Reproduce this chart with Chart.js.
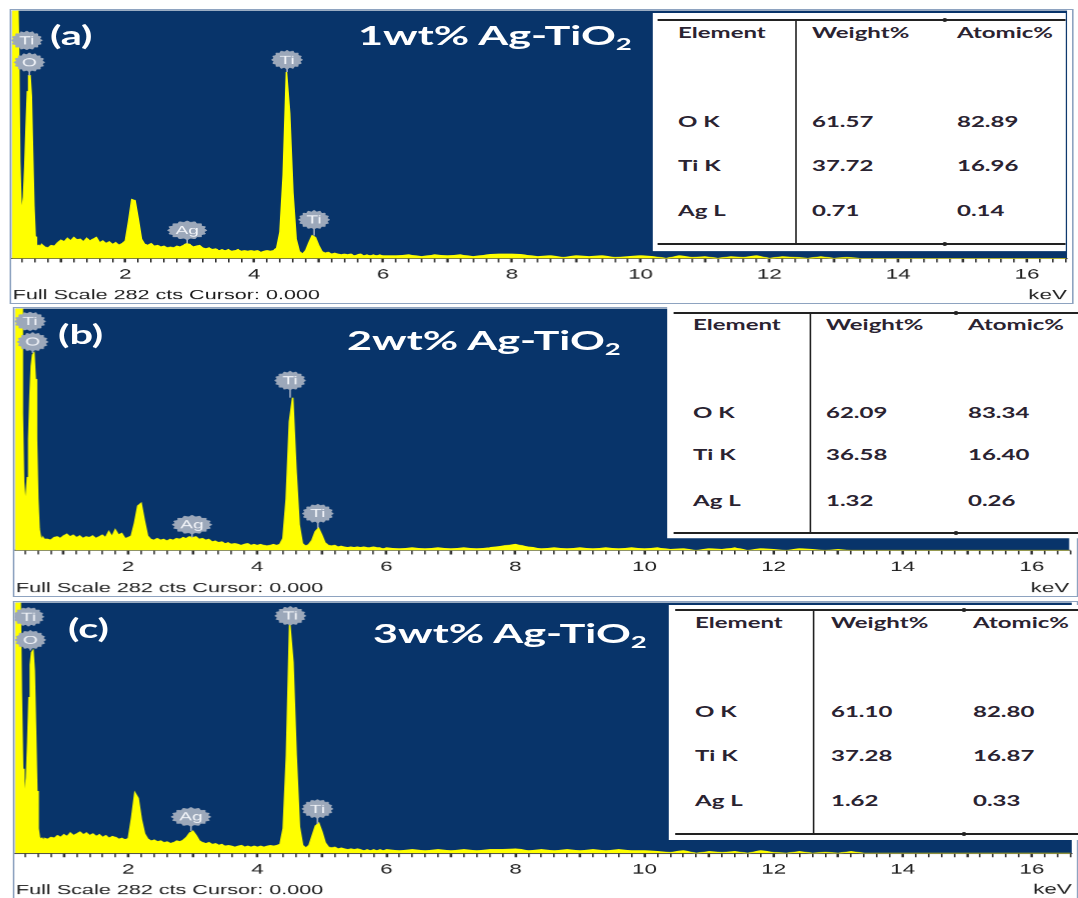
<!DOCTYPE html>
<html>
<head>
<meta charset="utf-8">
<script src="https://cdn.jsdelivr.net/npm/chart.js"></script>
<style>
  html, body { margin: 0; padding: 0; background: #fff; }
  body { width: 1078px; height: 898px; overflow: hidden; position: relative; }
  #page { position: absolute; left: 0; top: 0; height: 898px; transform-origin: 0 0; }
  .panel { position: absolute; border: 1px solid #8ea3c0; background: #fff; }
  .panel canvas { display: block; }
  .tag { position: absolute; color: #fff; font-family: Lato, sans-serif; font-weight: 700; white-space: nowrap; line-height: 1; }
  .tag sub { font-size: 64%; vertical-align: -0.3em; line-height: 0; }
  .tbl { position: absolute; background: #fff; }
  .tbl .rule { position: absolute; right: 0; height: 0; border-top: 2px solid #222; }
  .tbl .vrule { position: absolute; width: 0; border-left: 1.6px solid #222; }
  .tbl .dot { position: absolute; width: 3px; height: 4px; margin-top: -1px; background: #222; border-radius: 50%; }
  .tbl .cell { position: absolute; font-family: Lato, sans-serif; font-weight: 700; font-size: 15px; line-height: 1; color: #2a2331; white-space: nowrap; }
</style>
</head>
<body>
<div id="page"></div>
<script>
// energy axis (keV), shared by the three spectra
const energyKeV = [
    0.24, 0.26, 0.28, 0.30, 0.32, 0.34, 0.36, 0.38, 0.40, 0.42, 0.44, 0.46, 0.48, 0.50, 0.52, 0.54, 0.56, 0.58, 0.60, 0.62, 0.64, 0.66, 0.68, 0.70,
    0.75, 0.80, 0.85, 0.90, 0.95,
    1.00, 1.05, 1.10, 1.15, 1.20, 1.25, 1.30, 1.35, 1.40, 1.45, 1.50, 1.55, 1.60, 1.65, 1.70, 1.75, 1.80, 1.85, 1.90, 1.95,
    2.00, 2.05, 2.10, 2.15, 2.20, 2.25, 2.30, 2.35, 2.40, 2.45, 2.50, 2.55, 2.60, 2.65, 2.70, 2.75, 2.80, 2.85, 2.90, 2.95,
    3.00, 3.05, 3.10, 3.15, 3.20, 3.25, 3.30, 3.35, 3.40, 3.45, 3.50, 3.55, 3.60, 3.65, 3.70, 3.75, 3.80, 3.85, 3.90, 3.95,
    4.00, 4.05, 4.10, 4.15, 4.20, 4.25, 4.30, 4.35, 4.40, 4.45, 4.50, 4.55, 4.60, 4.65, 4.70, 4.75, 4.80, 4.85, 4.90, 4.95,
    5.00, 5.05, 5.10, 5.15, 5.20, 5.25, 5.30, 5.35, 5.40, 5.45, 5.50, 5.55, 5.60, 5.65, 5.70, 5.75, 5.80, 5.85, 5.90, 5.95, 6.00,
    6.2, 6.4, 6.6, 6.8, 7.0, 7.2, 7.4, 7.6, 7.8, 8.0, 8.2, 8.4, 8.6, 8.8, 9.0, 9.2, 9.4, 9.6, 9.8, 10.0,
    10.2, 10.4, 10.6, 10.8, 11.0, 11.2, 11.4, 11.6, 11.8, 12.0, 12.2, 12.4, 12.6, 12.8, 13.0, 13.2, 13.4, 13.6, 13.8, 14.0,
    14.2, 14.4, 14.6, 14.8, 15.0, 15.2, 15.4, 15.6, 15.8, 16.0, 16.2, 16.4, 16.6
];

// counts (full scale 282 cts)
const counts1wt = [
    320, 320, 320, 320, 320, 250, 110, 60, 58, 70, 105, 150, 190, 208, 208, 185, 120, 60, 25, 16, 14, 15, 13, 16,
    13, 12, 15, 14, 18,
    21, 19, 23, 20, 24, 21, 22, 19, 23, 20, 22, 24, 18, 20, 17, 19, 16, 18, 15, 17,
    20, 42, 67, 66, 45, 22, 16, 15, 17, 14, 15, 13, 14, 12, 13, 12, 14, 13, 15, 17,
    16, 13, 14, 15, 12, 11, 12, 10, 11, 9, 10, 9, 10, 8, 9, 10, 8, 9, 8, 9,
    8, 9, 7, 8, 9, 8, 9, 12, 30, 95, 212, 165, 75, 22, 8, 5, 9, 18, 26, 24,
    15, 8, 6, 7, 5, 6, 5, 4, 5, 4, 5, 3, 4, 5, 3, 4, 3, 4, 3, 4, 3,
    3, 4, 2, 4, 3, 4, 2, 4, 5, 5, 4, 2, 3, 1, 3, 2, 3, 1, 2, 3,
    2, 0, 3, 1, 2, 0, 2, 1, 3, 0, 2, 1, 0, 2, 0, 1, 0, 0, 0, 0,
    0, 0, 0, 0, 0, 0, 0, 0, 0, 0, 0, 0, 0
];
const counts2wt = [
    320, 320, 320, 320, 320, 300, 160, 80, 60, 62, 85, 130, 180, 215, 228, 230, 200, 130, 60, 25, 16, 14, 15, 13,
    13, 12, 15, 16, 14,
    17, 19, 16, 18, 15, 17, 14, 16, 15, 17, 14, 16, 18, 15, 22, 16, 24, 18, 20, 14,
    15, 17, 32, 52, 55, 35, 17, 13, 12, 14, 12, 13, 11, 13, 12, 14, 13, 15, 14, 16,
    15, 16, 13, 14, 12, 13, 10, 11, 9, 10, 8, 9, 7, 8, 7, 6, 7, 8, 6, 7,
    6, 7, 6, 5, 6, 7, 6, 7, 14, 60, 150, 178, 95, 30, 8, 5, 7, 12, 22, 26,
    18, 9, 6, 5, 6, 4, 5, 4, 3, 4, 3, 4, 3, 4, 3, 3, 4, 3, 3, 2, 3,
    2, 3, 2, 3, 2, 3, 2, 3, 5, 7, 4, 2, 3, 2, 3, 2, 3, 2, 3, 2,
    3, 1, 2, 0, 2, 1, 3, 0, 2, 1, 0, 2, 1, 0, 1, 0, 0, 0, 0, 0,
    0, 0, 0, 0, 0, 0, 0, 0, 0, 0, 0, 0, 0
];
const counts3wt = [
    320, 320, 320, 320, 300, 180, 95, 70, 69, 85, 125, 175, 212, 226, 228, 205, 140, 70, 28, 18, 16, 17, 15, 17,
    16, 18, 17, 20, 18,
    21, 19, 23, 20, 22, 24, 21, 23, 20, 22, 19, 21, 18, 20, 17, 19, 18, 16, 17, 15,
    17, 40, 68, 62, 38, 22, 16, 14, 15, 13, 14, 12, 13, 11, 12, 14, 13, 15, 18, 23,
    25, 20, 14, 12, 11, 12, 10, 11, 9, 10, 8, 9, 8, 7, 8, 9, 7, 8, 7, 8,
    7, 8, 7, 8, 9, 8, 9, 10, 28, 110, 258, 215, 110, 30, 9, 6, 9, 20, 31, 34,
    24, 12, 7, 6, 7, 5, 6, 5, 4, 5, 4, 5, 4, 3, 4, 3, 4, 3, 4, 3, 4,
    3, 4, 3, 4, 3, 4, 3, 4, 4, 5, 3, 4, 3, 4, 3, 4, 3, 4, 3, 3,
    2, 1, 3, 0, 2, 1, 2, 0, 3, 1, 0, 2, 0, 1, 0, 2, 0, 0, 0, 0,
    0, 0, 0, 0, 0, 0, 0, 0, 0, 0, 0, 0, 0
];

const xTickLabels = [2, 4, 6, 8, 10, 12, 14, 16];
const fullScaleCts = 282;

// peak markers: name, energy, where the tag sits and where its stem ends (cts)
const peakNames = ['Ti', 'O', 'Ti', 'Ag', 'Ti'];
const peakKeV1wt = [0.47, 0.51, 4.51, 2.96, 4.93];
const tagCts1wt = [248, 223, 226, 32, 44];
const stemCts1wt = [248, 208, 212, 17, 26];
const peakKeV2wt = [0.48, 0.52, 4.51, 2.99, 4.94];
const tagCts2wt = [267, 243, 198, 30, 43];
const stemCts2wt = [267, 230, 178, 15, 26];
const peakKeV3wt = [0.45, 0.48, 4.51, 2.97, 4.93];
const tagCts3wt = [266, 240, 267, 41, 50];
const stemCts3wt = [266, 228, 258, 25, 33];

// quantification tables
const tableHeader = ['Element', 'Weight%', 'Atomic%'];
const tableElements = ['O K', 'Ti K', 'Ag L'];
const weightPct1wt = [61.57, 37.72, 0.71];
const atomicPct1wt = [82.89, 16.96, 0.14];
const weightPct2wt = [62.09, 36.58, 1.32];
const atomicPct2wt = [83.34, 16.40, 0.26];
const weightPct3wt = [61.10, 37.28, 1.62];
const atomicPct3wt = [82.80, 16.87, 0.33];

const panelLetters = ['(a)', '(b)', '(c)'];
const sampleNames = ['1wt% Ag-TiO', '2wt% Ag-TiO', '3wt% Ag-TiO'];

// the figure is stretched horizontally; layout below is in picture pixels
const STRETCH = 1.6;
const BLUE = '#08346a';
const YELLOW = '#ffff00';

const panels = [
    { left: 10, top: 10, width: 1062, plotH: 248, axisH: 45, xMin: 0.24, xMax: 16.62,
      counts: counts1wt, keV: peakKeV1wt, tag: tagCts1wt, stem: stemCts1wt,
      weight: weightPct1wt, atomic: atomicPct1wt,
      letter: { x: 50, y: 35 }, name: { x: 358, y: 34 },
      table: { left: 652, top: 13, right: 1066, bottom: 251, ruleTop: 20, ruleBottom: 244, ruleLeft: 658,
               vline: 796, dot: 944, headY: 32, rowY: [121, 165, 210], cols: [678, 812, 957] } },
    { left: 13, top: 308, width: 1063, plotH: 242, axisH: 46, xMin: 0.25, xMax: 16.58,
      counts: counts2wt, keV: peakKeV2wt, tag: tagCts2wt, stem: stemCts2wt,
      weight: weightPct2wt, atomic: atomicPct2wt,
      letter: { x: 58, y: 334 }, name: { x: 347, y: 339 },
      table: { left: 667, top: 307, right: 1078, bottom: 538, ruleTop: 313, ruleBottom: 533, ruleLeft: 673,
               vline: 810, dot: 955, headY: 324, rowY: [412, 454, 500], cols: [693, 826, 968] } },
    { left: 13, top: 602, width: 1063, plotH: 251, axisH: 45, xMin: 0.245, xMax: 16.62,
      counts: counts3wt, keV: peakKeV3wt, tag: tagCts3wt, stem: stemCts3wt,
      weight: weightPct3wt, atomic: atomicPct3wt,
      letter: { x: 68, y: 628 }, name: { x: 373, y: 632 },
      table: { left: 669, top: 605, right: 1078, bottom: 840, ruleTop: 610, ruleBottom: 834, ruleLeft: 675,
               vline: 813, dot: 962, headY: 622, rowY: [711, 755, 800], cols: [695, 831, 973] } }
];

const page = document.getElementById('page');
page.style.width = (1078 / STRETCH) + 'px';
page.style.transform = `scaleX(${STRETCH})`;

const sx = v => (v / STRETCH) + 'px';

const tickValues = [];
for (let k = 2; k <= 83; k++) tickValues.push(k / 5);

Chart.defaults.font.family = "'Liberation Sans', Arial, sans-serif";

const plotBackground = {
    id: 'plotBackground',
    beforeDraw(chart) {
        const { ctx, chartArea: a } = chart;
        ctx.save();
        ctx.fillStyle = BLUE;
        ctx.fillRect(a.left, a.top, a.right - a.left, a.bottom - a.top);
        ctx.restore();
    }
};

const footerText = {
    id: 'footerText',
    afterDraw(chart, args, opts) {
        const { ctx } = chart;
        ctx.save();
        ctx.font = "13.5px 'Liberation Sans', Arial, sans-serif";
        ctx.fillStyle = '#1a1a1a';
        ctx.textBaseline = 'middle';
        ctx.textAlign = 'left';
        ctx.fillText(opts.text, 1, chart.height - 8);
        ctx.restore();
    }
};

function tagShape(ctx, cx, cy, rx, ry) {
    ctx.beginPath();
    for (let i = 0; i <= 96; i++) {
        const a = i / 96 * Math.PI * 2;
        const k = 1 + 0.07 * Math.cos(a * 16);
        const px = cx + rx * k * Math.cos(a);
        const py = cy + ry * k * Math.sin(a);
        if (i === 0) ctx.moveTo(px, py); else ctx.lineTo(px, py);
    }
    ctx.closePath();
    ctx.fill();
}

const peakTags = {
    id: 'peakTags',
    afterDatasetsDraw(chart, args, opts) {
        const { ctx } = chart;
        const xs = chart.scales.x, ys = chart.scales.y;
        ctx.save();
        ctx.font = "12px 'Liberation Sans', Arial, sans-serif";
        ctx.textAlign = 'center';
        ctx.textBaseline = 'middle';
        opts.names.forEach((name, i) => {
            const x = xs.getPixelForValue(opts.keV[i]);
            const y = ys.getPixelForValue(opts.tag[i]);
            const yEnd = ys.getPixelForValue(opts.stem[i]);
            const ry = 9;
            const rx = ctx.measureText(name).width / 2 + 4.5;
            if (yEnd > y + ry) {
                ctx.strokeStyle = '#a7b2c3';
                ctx.lineWidth = 1;
                ctx.beginPath();
                ctx.moveTo(x, y + ry);
                ctx.lineTo(x, yEnd);
                ctx.stroke();
            }
            ctx.fillStyle = '#9ca8ba';
            tagShape(ctx, x, y, rx, ry);
            ctx.fillStyle = '#f3f5f9';
            ctx.fillText(name, x, y + 0.5);
        });
        ctx.restore();
    }
};

function addText(parent, cls, html, x, y, size) {
    const el = document.createElement('div');
    el.className = cls;
    el.innerHTML = html;
    el.style.left = x;
    el.style.top = (y - size / 2) + 'px';
    el.style.fontSize = size + 'px';
    parent.appendChild(el);
    return el;
}

function makeTable(p) {
    const t = p.table;
    const box = document.createElement('div');
    box.className = 'tbl';
    box.style.left = sx(t.left);
    box.style.top = t.top + 'px';
    box.style.width = sx(t.right - t.left);
    box.style.height = (t.bottom - t.top) + 'px';
    page.appendChild(box);

    [t.ruleTop, t.ruleBottom].forEach(y => {
        const r = document.createElement('div');
        r.className = 'rule';
        r.style.left = sx(t.ruleLeft - t.left);
        r.style.top = (y - t.top - 1) + 'px';
        box.appendChild(r);
        const d = document.createElement('div');
        d.className = 'dot';
        d.style.left = sx(t.dot - t.left - 1);
        d.style.top = (y - t.top - 1) + 'px';
        box.appendChild(d);
    });
    const v = document.createElement('div');
    v.className = 'vrule';
    v.style.left = sx(t.vline - t.left - 1);
    v.style.top = (t.ruleTop - t.top - 1) + 'px';
    v.style.height = (t.ruleBottom - t.ruleTop + 2) + 'px';
    box.appendChild(v);

    tableHeader.forEach((h, c) => {
        addText(box, 'cell', h, sx(t.cols[c] - t.left), t.headY - t.top, 15);
    });
    tableElements.forEach((el, r) => {
        const y = t.rowY[r] - t.top;
        addText(box, 'cell', el, sx(t.cols[0] - t.left), y, 15);
        addText(box, 'cell', p.weight[r].toFixed(2), sx(t.cols[1] - t.left), y, 15);
        addText(box, 'cell', p.atomic[r].toFixed(2), sx(t.cols[2] - t.left), y, 15);
    });
}

function makePanel(p, i) {
    const box = document.createElement('div');
    box.className = 'panel';
    box.style.left = sx(p.left - 1);
    box.style.top = (p.top - 1) + 'px';
    box.style.width = sx(p.width);
    box.style.height = (p.plotH + p.axisH) + 'px';
    page.appendChild(box);
    const canvas = document.createElement('canvas');
    box.appendChild(canvas);

    new Chart(canvas, {
        type: 'line',
        data: {
            datasets: [{
                data: energyKeV.map((e, k) => ({ x: e, y: p.counts[k] })),
                borderColor: YELLOW,
                backgroundColor: YELLOW,
                borderWidth: 1,
                fill: 'origin',
                pointRadius: 0,
                tension: 0,
                clip: 0
            }]
        },
        options: {
            responsive: true,
            maintainAspectRatio: false,
            animation: false,
            devicePixelRatio: STRETCH,
            layout: { padding: 0 },
            plugins: {
                legend: { display: false },
                tooltip: { enabled: false },
                footerText: { text: `Full Scale ${fullScaleCts} cts Cursor: 0.000` },
                peakTags: { names: peakNames, keV: p.keV, tag: p.tag, stem: p.stem }
            },
            scales: {
                x: {
                    type: 'linear',
                    min: p.xMin,
                    max: p.xMax,
                    afterBuildTicks: s => { s.ticks = tickValues.map(v => ({ value: v })); },
                    afterFit: s => { s.height = p.axisH; },
                    grid: {
                        drawOnChartArea: false,
                        tickLength: 4,
                        color: '#333',
                        tickColor: '#333',
                        tickWidth: ctx => (ctx.tick && Number.isInteger(ctx.tick.value)) ? 1.6 : 1
                    },
                    border: { display: true, color: '#1c1c1c', width: 1 },
                    ticks: {
                        autoSkip: false,
                        maxRotation: 0,
                        padding: 4,
                        color: '#1e1e1e',
                        font: { size: 14 },
                        callback: v => (Number.isInteger(v) && xTickLabels.includes(v)) ? String(v) : ''
                    },
                    title: {
                        display: true,
                        text: 'keV',
                        align: 'end',
                        color: '#1e1e1e',
                        font: { size: 14 },
                        padding: { top: 0, bottom: 0 }
                    }
                },
                y: { display: false, min: 0, max: fullScaleCts }
            }
        },
        plugins: [plotBackground, footerText, peakTags]
    });

    makeTable(p);
    addText(page, 'tag', panelLetters[i], sx(p.letter.x), p.letter.y, 26);
    addText(page, 'tag', sampleNames[i] + '<sub>2</sub>', sx(p.name.x), p.name.y, 27);
}

panels.forEach(makePanel);
</script>
</body>
</html>
